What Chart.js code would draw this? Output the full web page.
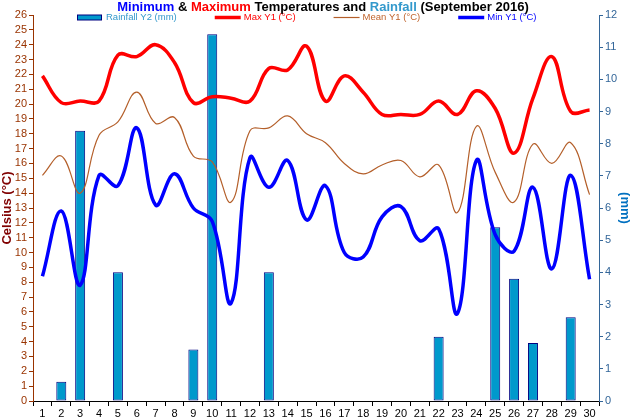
<!DOCTYPE html>
<html>
<head>
<meta charset="utf-8">
<script src="https://cdn.jsdelivr.net/npm/chart.js@4.4.1/dist/chart.umd.min.js"></script>
<style>
html,body{margin:0;padding:0;background:#fff}
</style>
</head>
<body>
<canvas id="myChart" width="632" height="420"></canvas>
<script>
// donnees (septembre 2016)
const days = ['1','2','3','4','5','6','7','8','9','10','11','12','13','14','15',
              '16','17','18','19','20','21','22','23','24','25','26','27','28','29','30']
const rainfall = [0,0.6,8.4,0,4.0,0,0,0,1.6,11.4,0,0,4.0,0,0,0,0,0,0,0,0,2.0,0,0,5.4,3.8,1.8,0,2.6,0]
const maxTemp  = [21.9,20.1,20.2,20.2,23.3,23.2,24.0,22.8,20.1,20.5,20.4,20.2,22.4,22.3,23.9,
                  20.2,21.9,20.8,19.3,19.3,19.3,20.2,19.3,20.9,19.7,16.7,20.4,23.2,19.5,19.6]
const meanTemp = [15.2,16.5,14.0,17.9,18.8,20.8,18.7,19.1,16.5,16.1,13.4,18.2,18.4,19.2,18.0,
                  17.4,16.0,15.3,15.9,16.2,15.1,15.9,12.7,18.5,15.4,13.4,17.3,16.0,17.4,13.9]
const minTemp  = [8.4,12.8,7.8,15.2,14.5,18.4,13.2,15.3,13.0,12.1,6.6,16.4,14.4,16.2,12.2,
                  14.5,10.0,9.7,12.4,13.1,10.8,11.6,5.9,16.2,11.2,10.1,14.4,8.9,15.2,8.2]

const titleParts = [
    ['Minimum', '#0000ff'],
    [' & ', '#000000'],
    ['Maximum', '#ff0000'],
    [' Temperatures and ', '#000000'],
    ['Rainfall', '#3399cc'],
    [' (September 2016)', '#000000']
]
const legendColors = ['#3399cc', '#ff0000', '#c0642c', '#0000ff']

const fontName = "'Liberation Sans', Arial, sans-serif"

//************ titre multicolore + legende dessines a la main ************//
const headerPlugin = {
    id: 'header',
    afterDraw(chart) {
        const c = chart.ctx
        c.save()
        // titre
        c.font = 'bold 13px ' + fontName
        c.textBaseline = 'middle'
        c.textAlign = 'left'
        let total = 0
        titleParts.forEach(p => { total += c.measureText(p[0]).width })
        let x = 323 - total / 2
        titleParts.forEach(p => {
            c.fillStyle = p[1]
            c.fillText(p[0], x, 7)
            x += c.measureText(p[0]).width
        })
        // legende
        c.font = '9.5px ' + fontName
        let lx = 77
        const ly = 17.5
        chart.data.datasets.forEach((ds, i) => {
            if (ds.type === 'bar') {
                c.fillStyle = ds.backgroundColor
                c.fillRect(lx, ly - 2.5, 25, 5)
                c.strokeStyle = ds.borderColor
                c.lineWidth = 1
                c.strokeRect(lx + 0.5, ly - 2.5, 24, 5)
            } else {
                c.strokeStyle = ds.borderColor
                c.lineWidth = ds.borderWidth
                c.beginPath()
                c.moveTo(lx, ly)
                c.lineTo(lx + 26, ly)
                c.stroke()
            }
            c.fillStyle = legendColors[i]
            c.fillText(ds.label, lx + 29, ly)
            lx += 29 + c.measureText(ds.label).width + 38
        })
        c.restore()
    }
}

const tickFont = { family: fontName, size: 11 }

let ctx = document.getElementById('myChart')
let myChart = new Chart(ctx, {
    type: 'bar',
    data: {
        labels: days,
        datasets: [
            {
                type: 'bar', label: 'Rainfall Y2 (mm)', data: rainfall, yAxisID: 'yRain',
                backgroundColor: '#0099cc', borderColor: '#000080', borderWidth: 1,
                borderSkipped: false, barPercentage: 0.53, categoryPercentage: 1, order: 2
            },
            {
                type: 'line', label: 'Max Y1 (°C)', data: maxTemp, yAxisID: 'yTemp',
                borderColor: '#ff0000', borderWidth: 3.5, tension: 0.4, pointRadius: 0, order: 1
            },
            {
                type: 'line', label: 'Mean Y1 (°C)', data: meanTemp, yAxisID: 'yTemp',
                borderColor: '#b45f2a', borderWidth: 1.2, tension: 0.4, pointRadius: 0, order: 1
            },
            {
                type: 'line', label: 'Min Y1 (°C)', data: minTemp, yAxisID: 'yTemp',
                borderColor: '#0000ff', borderWidth: 3.5, tension: 0.4, pointRadius: 0, order: 0
            }
        ]
    },
    options: {
        responsive: false,
        animation: false,
        layout: { padding: { top: 15, left: 0, right: 0, bottom: 0 } },
        plugins: {
            legend: { display: false },
            title: { display: false },
            tooltip: { enabled: false }
        },
        scales: {
            x: {
                offset: true,
                grid: { offset: true, drawOnChartArea: false, color: '#000000', tickLength: 5 },
                border: { color: '#000000' },
                ticks: { color: '#000000', font: tickFont, padding: 1, maxRotation: 0, autoSkip: false },
                afterFit(s) { s.height = 19 }
            },
            yTemp: {
                position: 'left', min: 0, max: 26,
                ticks: { stepSize: 1, autoSkip: false, color: '#993300', font: tickFont, padding: 2 },
                grid: { drawOnChartArea: false, color: '#993300', tickLength: 4 },
                border: { color: '#993300' },
                title: {
                    display: true, text: 'Celsius (°C)', color: '#800000', padding: 0,
                    font: { family: fontName, size: 13, weight: 'bold' }
                },
                afterFit(s) { s.width = 33 }
            },
            yRain: {
                position: 'right', min: 0, max: 12,
                ticks: { stepSize: 1, autoSkip: false, color: '#336699', font: tickFont, padding: 2 },
                grid: { drawOnChartArea: false, color: '#336699', tickLength: 4 },
                border: { color: '#336699' },
                title: {
                    display: true, text: '(mm)', color: '#0070c0', padding: 0,
                    font: { family: fontName, size: 13, weight: 'bold' }
                },
                afterFit(s) { s.width = 33 }
            }
        }
    },
    plugins: [headerPlugin]
})
</script>
</body>
</html>
